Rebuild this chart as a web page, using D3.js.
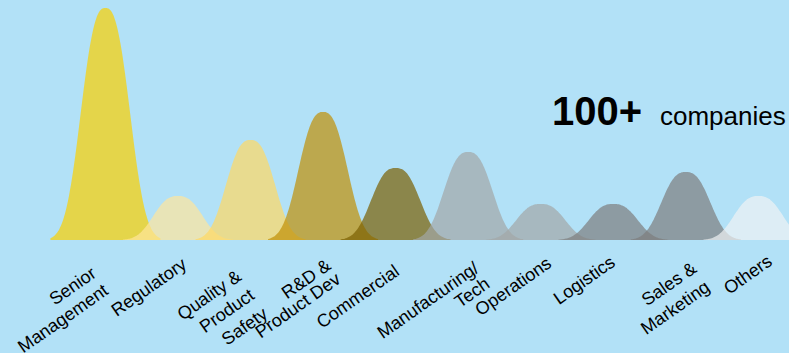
<!DOCTYPE html>
<html>
<head>
<meta charset="utf-8">
<script src="https://cdn.jsdelivr.net/npm/d3@7"></script>
<style>
  html, body { margin: 0; padding: 0; background: #b2e1f7; }
  svg { display: block; }
</style>
</head>
<body>
<div id="chart"></div>
<script>
// functions / departments along the bottom
var categories = ["Senior Management", "Regulatory", "Quality & Product Safety", "R&D & Product Dev",
  "Commercial", "Manufacturing/ Tech", "Operations", "Logistics", "Sales & Marketing", "Others"];

// label lines as printed under each peak
var labelLines = [["Senior", "Management"], ["Regulatory"], ["Quality &", "Product", "Safety"],
  ["R&D &", "Product Dev"], ["Commercial"], ["Manufacturing/", "Tech"], ["Operations"],
  ["Logistics"], ["Sales &", "Marketing"], ["Others"]];

// peak heights (relative share)
var values = [58, 11, 25, 32, 18, 22, 9, 9, 17, 11];

var headline = "100+";
var headlineUnit = "companies";

// fill colours, drawn at 0.7 opacity over the blue
var colors = ["#fad000", "#ffe59b", "#ffd863", "#c09006", "#7b6002", "#a3a6a7",
  "#a3a6a7", "#7d7e7e", "#7d7e7e", "#f0f2f3"];

function createChart() {
  var svgWidth = 789, svgHeight = 353;

  var svg = d3.select("#chart")
    .append("svg")
    .attr("width", svgWidth)
    .attr("height", svgHeight);

  svg.append("rect")
    .attr("width", svgWidth)
    .attr("height", svgHeight)
    .attr("fill", "#b2e1f7");

  var data = categories.map(function(c, i) {
    return { cat: c, value: values[i], lines: labelLines[i] };
  });

  var x = d3.scalePoint()
    .domain(categories)
    .range([105.4, 758.4]);

  var y = d3.scaleLinear()
    .domain([0, 58])
    .range([240, 8]);

  var color = d3.scaleOrdinal(categories, colors);

  // bell shape (flat-topped), sampled in pixel offsets around each centre
  var shapeWidth = 30, shapePow = 2.6, halfSpan = 55;
  var offsets = d3.range(-halfSpan, halfSpan + 0.5, 1);

  var area = d3.area()
    .x(function(p) { return p.x; })
    .y0(y(0))
    .y1(function(p) { return y(p.v); })
    .curve(d3.curveMonotoneX);

  svg.append("g")
    .selectAll("path")
    .data(data)
    .enter()
    .append("path")
    .attr("d", function(d) {
      var pts = offsets.map(function(o) {
        return { x: x(d.cat) + o, v: d.value * Math.exp(-Math.pow(Math.abs(o) / shapeWidth, shapePow)) };
      });
      return area(pts);
    })
    .attr("fill", function(d) { return color(d.cat); })
    .attr("fill-opacity", 0.7);

  // labels were hand placed in the original, small nudges per label [dx, y]
  var labelNudge = [[-8, 276], [10, 267], [-8, 279], [9, 268], [5, 274],
    [12, 271], [12, 266], [3, 265], [12, 271], [15, 264]];
  var lineGap = [21, 21, 23, 17, 21, 19, 21, 21, 23, 21];

  var labels = svg.append("g")
    .selectAll("text")
    .data(data)
    .enter()
    .append("text")
    .attr("transform", function(d, i) {
      return "translate(" + (x(d.cat) + labelNudge[i][0]) + "," + labelNudge[i][1] + ") rotate(-35)";
    })
    .attr("text-anchor", "end")
    .attr("font-family", "'Liberation Sans', Arial, sans-serif")
    .attr("font-size", "18px")
    .attr("fill", "#000");

  labels.each(function(d, i) {
    d3.select(this).selectAll("tspan")
      .data(d.lines)
      .enter()
      .append("tspan")
      .attr("x", 0)
      .attr("dy", function(l, j) { return j === 0 ? 0 : lineGap[i]; })
      .text(function(l) { return l; });
  });

  // headline
  var head = svg.append("text")
    .attr("x", 552)
    .attr("y", 125)
    .attr("font-family", "'Liberation Sans', Arial, sans-serif")
    .attr("fill", "#000");

  head.append("tspan")
    .attr("font-size", "40px")
    .attr("font-weight", "bold")
    .text(headline);

  head.append("tspan")
    .attr("x", 660)
    .attr("font-size", "26px")
    .text(headlineUnit);
}

createChart();
</script>
</body>
</html>
